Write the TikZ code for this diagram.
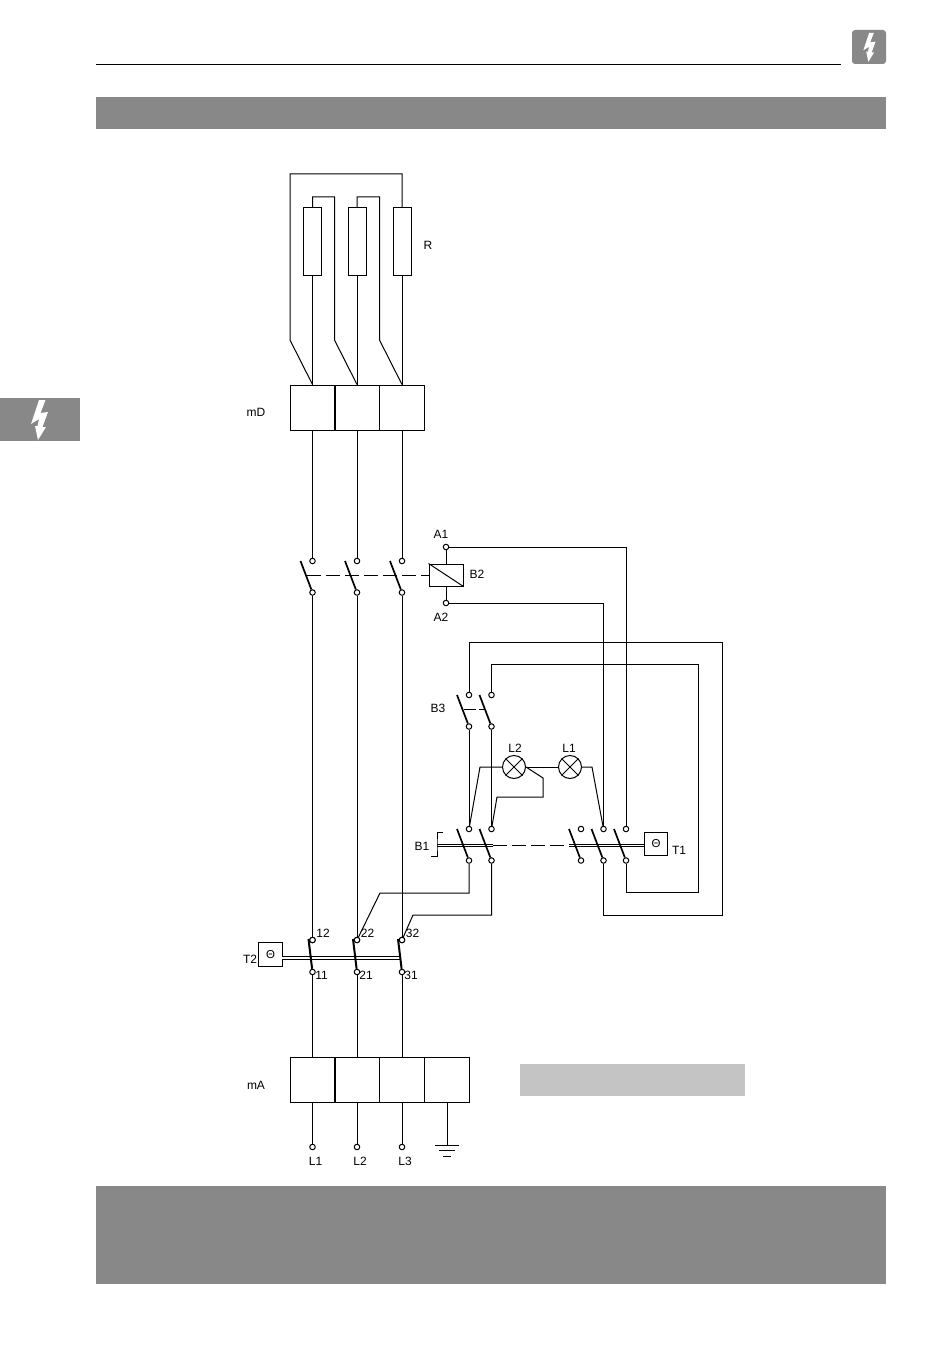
\documentclass[tikz,border=0pt]{standalone}
\usepackage{fontspec}
\setmainfont{Liberation Sans}
\usetikzlibrary{positioning}
\definecolor{bargray}{HTML}{888888}
\definecolor{notegray}{HTML}{C4C4C4}
\tikzstyle{terminal}=[circle,fill=white,draw,minimum size=5.5pt,inner sep=0pt,line width=1pt]
\tikzstyle{res}=[rectangle,draw,minimum width=18pt,minimum height=67pt,inner sep=0pt]
\tikzstyle{cell}=[rectangle,draw,minimum width=45pt,minimum height=45pt,inner sep=0pt]
\tikzstyle{lamp}=[circle,draw,minimum size=23pt,inner sep=0pt]
\tikzstyle{thermo}=[rectangle,draw,minimum size=23.5pt,inner sep=0pt,font=\fontsize{11.5}{12}\selectfont]
\tikzstyle{blade} = [draw,line width=1.7pt]
\tikzstyle{shaft} = [draw,double,line width=0.9pt,double distance=1.6pt]
\tikzstyle{link} = [draw,dash pattern=on 14pt off 5pt]
\tikzstyle{tag} = [font=\fontsize{12}{12}\selectfont,inner sep=0pt,text height=8.2pt,text depth=0pt]

\begin{document}
\begin{tikzpicture}[x=1pt,y=-1pt,line width=1pt]
  \useasboundingbox (0,0) rectangle (950,1348);

  \def\gap{31.5}

  % page furniture
  \draw (96,65) -- (841,65);
  \fill[bargray] (96,97) rectangle (886,129);
  \fill[bargray] (96,1186) rectangle (886,1284);
  \fill[notegray] (520,1064) rectangle (745,1096);
  \fill[bargray] (0,398) rectangle (80,441);
  \fill[bargray,rounded corners=3pt] (852,30) rectangle (886,64);
  \foreach \dx/\dy/\s in {0/0/1, 841/-255/0.72}
    \fill[white,shift={(\dx,\dy)},scale=\s]
      (39,400) -- (45.5,400) -- (40.5,413) -- (48,412) -- (42.5,427) -- (46,427) -- (38,440)
      -- (35,426) -- (37.5,426) -- (39,419) -- (31,424) -- cycle;

  % resistors and the two blocks
  \foreach \x/\name in {312.5/ra, 357/rb, 402/rc}
    \node[res] (\name) at (\x,241.5) {};
  \foreach \x/\name in {312.5/da, 357/db, 402/dc}
    \node[cell] (\name) at (\x,407.5) {};
  \foreach \x/\name in {312.5/ea, 357/eb, 402/ec, 447/ed}
    \node[cell] (\name) at (\x,1079.5) {};

  \foreach \source/\dest in {ra/da, rb/db, rc/dc}
    \draw (\source) -- (\dest);
  \foreach \res/\x/\y/\cell in {rc/290/174/da, ra/334.5/197/db, rb/379.5/197/dc}
  {
    \coordinate (\cell top) at (\x,\y);
    \coordinate (\cell knee) at (\x,340);
    \draw (\res.north) |- (\cell top) -- (\cell knee) -- (\cell.north);
  }

  % open contacts
  \foreach \x/\y/\name in {312.5/561/ka, 357/561/kb, 402/561/kc, 469/695/ca, 491.5/695/cb,
      469/829/ba, 491.5/829/bb, 581/829/bc, 603.5/829/bd, 626/829/be}
  {
    \node[terminal] (\name t) at (\x,\y) {};
    \node[terminal] (\name b) at (\x,\y+\gap) {};
    \coordinate (\name f) at (\x-12,\y);
  }

  % coil B2
  \node[rectangle,draw,minimum width=34pt,minimum height=22pt,inner sep=0pt] (coil) at (446,575) {};
  \draw (coil.north west) -- (coil.south east);
  \node[terminal] (aone) at (446,547) {};
  \node[terminal] (atwo) at (446,603) {};
  \draw (aone) -- (coil);
  \draw (atwo) -- (coil);
  \coordinate (kstart) at (307,575);
  \draw[link] (kstart) -- (coil.west);
  \coordinate (cstart) at (464,709);
  \coordinate (cend) at (486,709);
  \draw[dash pattern=on 12pt off 3pt] (cstart) -- (cend);

  % shafts and overtemperature boxes
  \node[thermo] (tone) at (656,844) {Θ};
  \node[thermo] (ttwo) at (270.5,954.5) {Θ};
  \coordinate (sa) at (437,845.5);
  \coordinate (sb) at (493,845.5);
  \coordinate (sc) at (569,845.5);
  \coordinate (sd) at (644,845.5);
  \coordinate (se) at (282,958);
  \coordinate (sf) at (400,958);
  \draw[shaft] (sa) -- (sb);
  \draw[link] (sb) -- (sc);
  \draw[shaft] (sc) -- (sd);
  \draw[shaft] (se) -- (sf);
  \coordinate (ba) at (443,832);
  \coordinate (bz) at (431,856);
  \draw (ba) -| (sa) |- (bz);

  \foreach \name in {ka, kb, kc, ca, cb, ba, bb, bc, bd, be}
    \draw[blade] (\name f) -- (\name b);

  % overload contacts
  \foreach \x/\name/\up/\down in {312.5/qa/12/11, 357/qb/22/21, 402/qc/32/31}
  {
    \coordinate (\name f) at (\x-4,939);
    \node[terminal] (\name t) at (\x,940) {};
    \node[terminal] (\name b) at (\x,972) {};
    \draw[line width=2pt] (\name f) -- (\name b);
    \node[terminal] (\name m) at (\name t) {};
    \node[tag] (\name up) at (\x+10.5,933) {\up};
    \node[tag] (\name down) at (\x+9,975) {\down};
  }

  % supply terminals and earth
  \foreach \x/\name/\label in {312.5/la/L1, 357/lb/L2, 402/lc/L3}
  {
    \node[terminal] (\name) at (\x,1147) {};
    \node[tag] (\name tag) at (\x+3,1161) {\label};
  }
  \foreach \source/\dest in {da/ka, db/kb, dc/kc}
    \draw (\source) -- (\dest t);
  \foreach \source/\dest in {ka/qa, kb/qb, kc/qc}
    \draw (\source b) -- (\dest t);
  \foreach \source/\dest/\last in {qa/ea/la, qb/eb/lb, qc/ec/lc}
  {
    \draw (\source b) -- (\dest);
    \draw (\dest) -- (\last);
  }
  \coordinate (gnd) at (447,1145);
  \draw (ed) -- (gnd);
  \foreach \y/\w in {0/12, 5.5/8, 11/4}
    \draw (gnd) ++(-\w,\y) -- ++(2*\w,0);

  % lamps
  \node[lamp] (lamptwo) at (514,767) {};
  \node[lamp] (lampone) at (570,767) {};
  \foreach \name in {lamptwo, lampone}
  {
    \draw (\name.45) -- (\name.225);
    \draw (\name.135) -- (\name.315);
  }
  \draw (lamptwo) -- (lampone);
  \coordinate (wa) at (480,767);
  \coordinate (wb) at (592,767);
  \coordinate (wc) at (543,778);
  \coordinate (wd) at (543,797);
  \coordinate (we) at (497,797);
  \draw (lamptwo) -- (wa) -- (bat);
  \draw (lampone) -- (wb) -- (bdt);
  \draw (lamptwo.east) -- (wc) -- (wd) -- (we) -- (bbt);
  \draw (cab) -- (bat);
  \draw (cbb) -- (bbt);

  % control wiring
  \coordinate (wf) at (722,642);
  \coordinate (wg) at (722,915);
  \coordinate (wh) at (698,664);
  \coordinate (wi) at (698,892);
  \coordinate (wj) at (380,893);
  \coordinate (wk) at (413,915);
  \draw (cat) |- (wf) -- (wg) -| (bdb);
  \draw (cbt) |- (wh) -- (wi) -| (beb);
  \draw (aone) -| (bet);
  \draw (atwo) -| (bdt);
  \draw (bab) |- (wj) -- (qbt);
  \draw (bbb) |- (wk) -- (qct);

  % labels
  \foreach \x/\y/\name/\label in {428/245/tagr/R, 256/412/tagd/mD, 441/534/tagaone/A1, 441/617/tagatwo/A2,
      477/574/tagbtwo/B2, 438/708/tagbthree/B3, 515/748/taglt/L2, 569/748/taglo/L1, 422/846/tagbone/B1,
      679/850/tagtone/T1, 250/959/tagttwo/T2, 256/1085/taga/mA}
    \node[tag] (\name) at (\x,\y) {\label};

\end{tikzpicture}
\end{document}
